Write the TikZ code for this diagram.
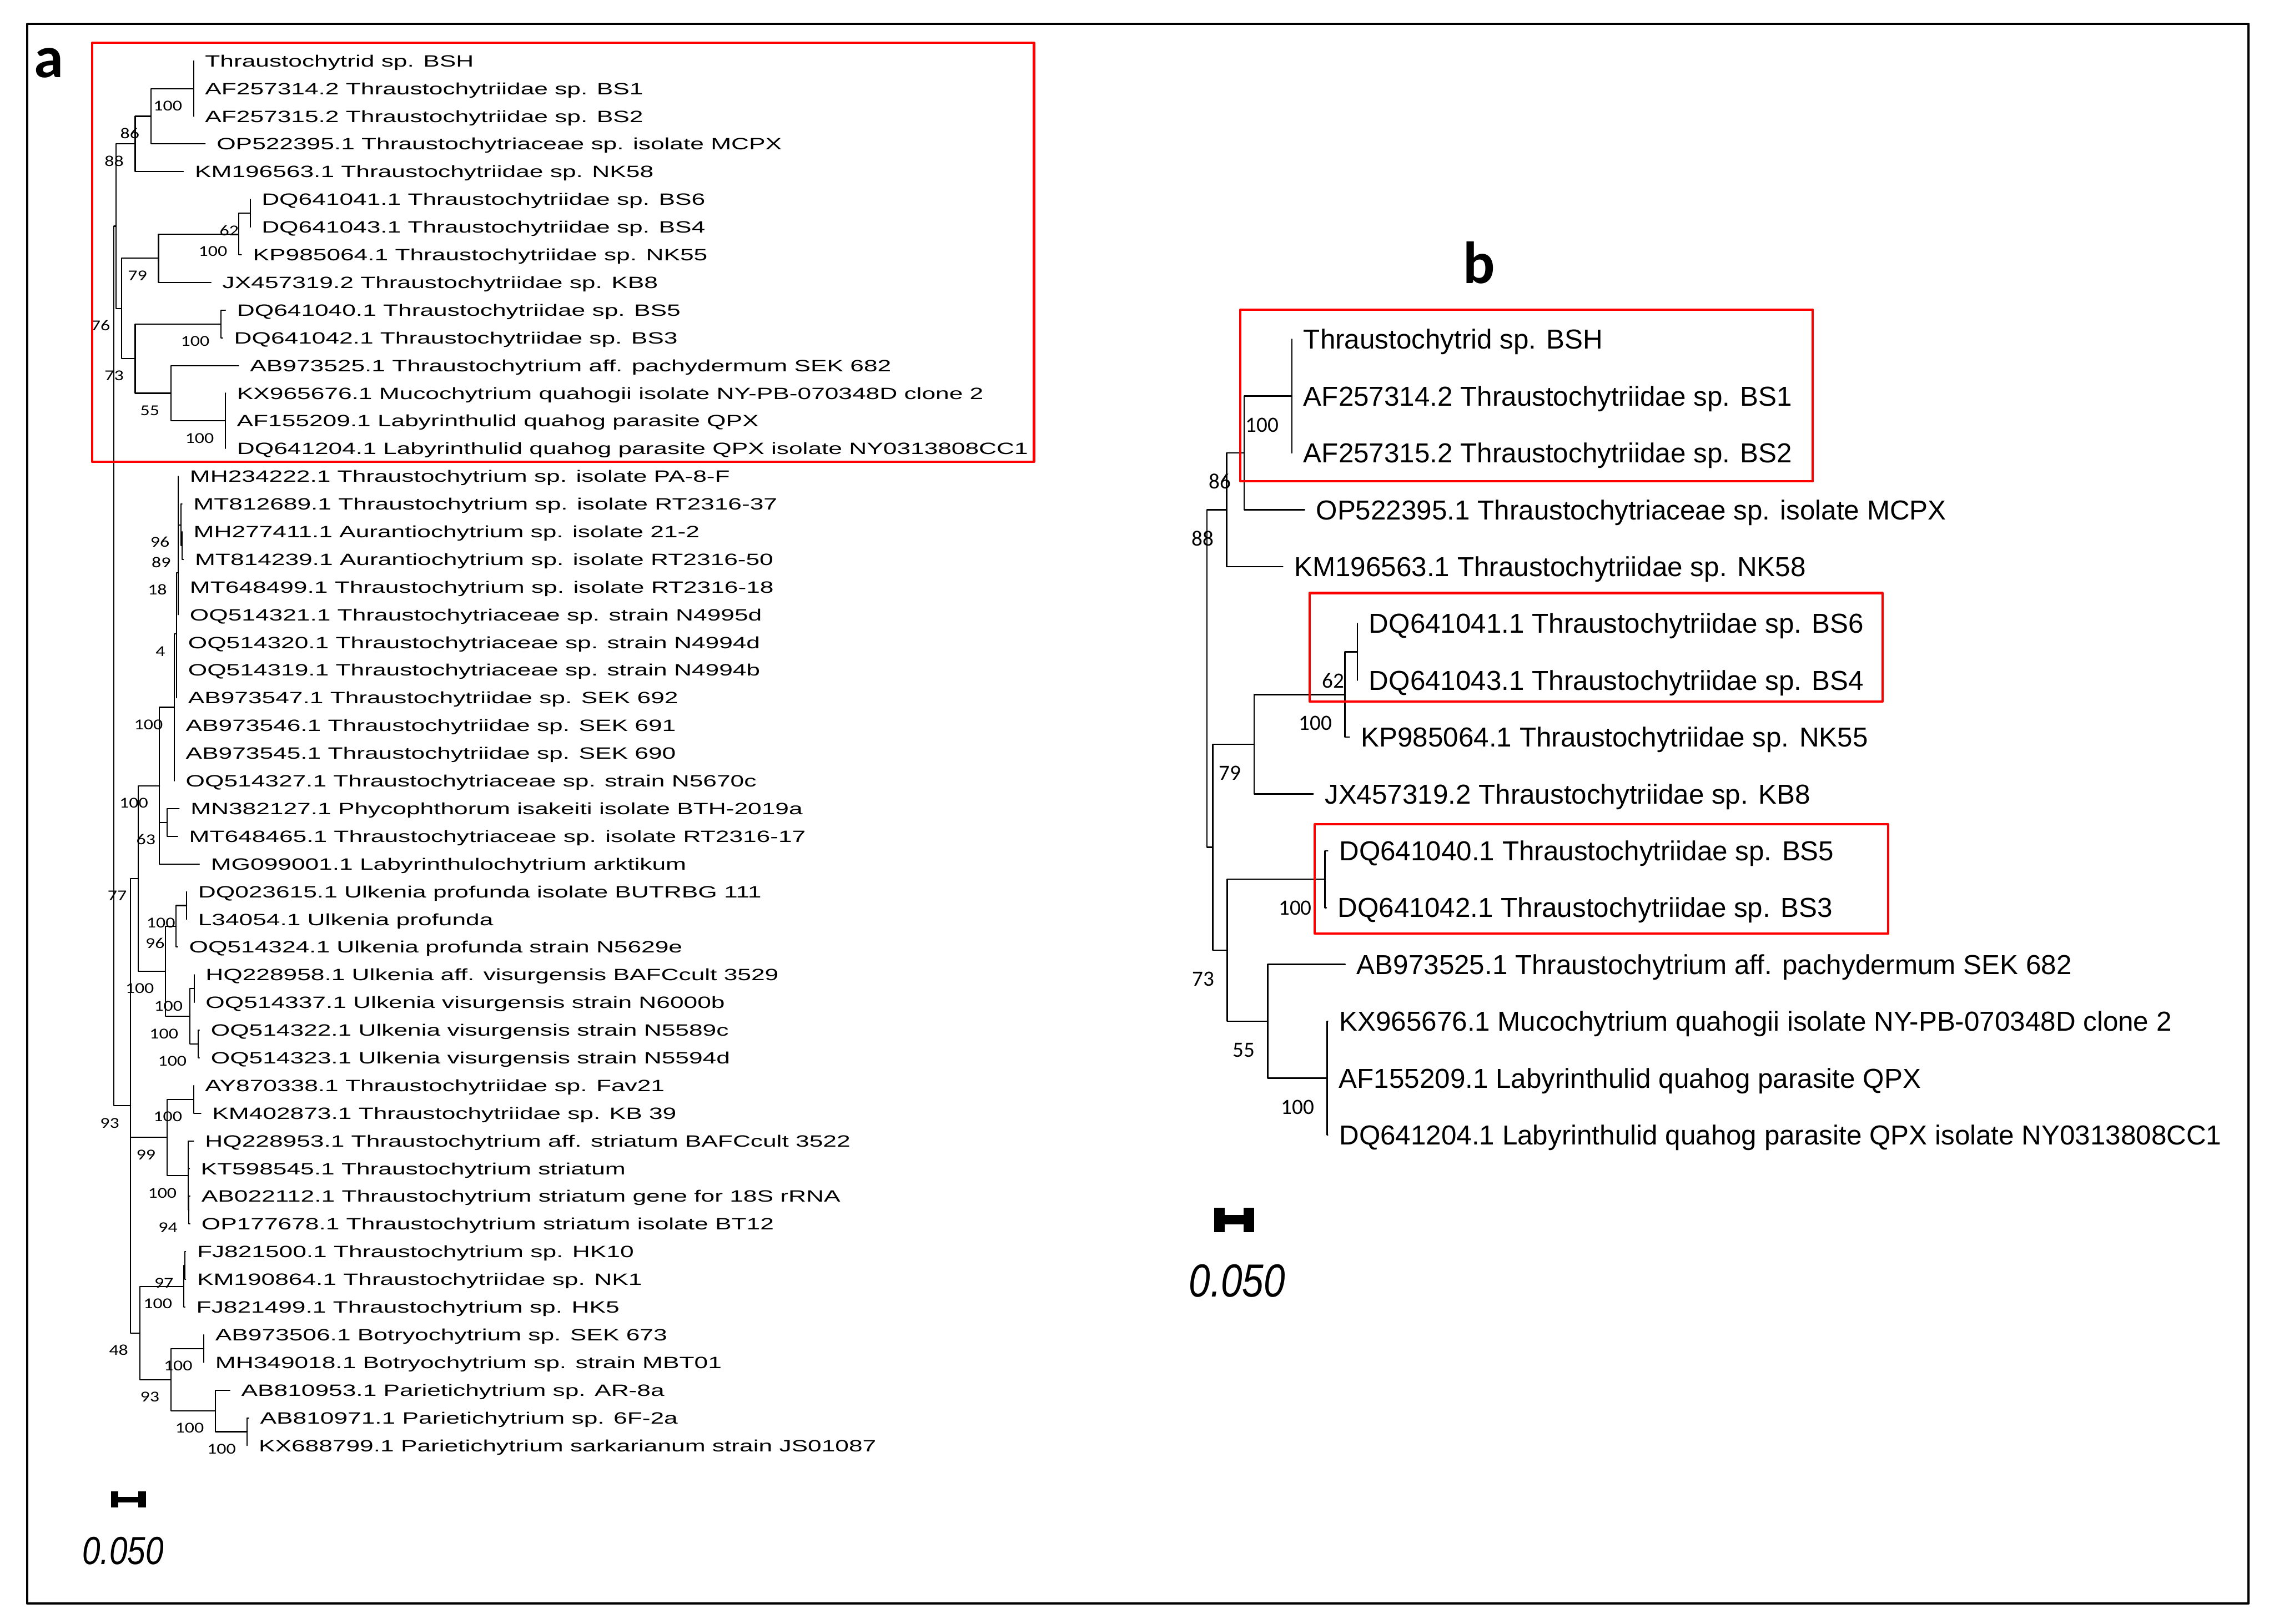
\documentclass[tikz,border=0pt]{standalone}
\usepackage{fontspec}
\newfontfamily\taxafont[FakeStretch=1.5]{Liberation Sans}
\newfontfamily\taxbfont{Liberation Sans}
\newfontfamily\bootafont[FakeStretch=1.25]{Carlito}
\newfontfamily\bootbfont{Carlito}
\newfontfamily\barfont[FakeStretch=0.83]{Liberation Sans}
\tikzset{
  every picture/.append style={line cap=round,line join=round},
  panel frame/.style={line width=1.5pt},
  clade box/.style={red,line width=1.6pt},
  tree a/.style={line width=0.8pt},
  tree b/.style={line width=1pt},
  taxon a/.style={anchor=west,inner sep=0pt,xshift=7.5pt,text height=8.1pt,text depth=0pt,
    font=\taxafont\fontsize{11.3}{13}\selectfont},
  taxon b/.style={anchor=west,inner sep=0pt,xshift=7.5pt,text height=13.5pt,text depth=0pt,
    font=\taxbfont\fontsize{18.9}{22}\selectfont},
  boot a/.style={anchor=east,inner sep=0pt,xshift=-7.5pt,yshift=-12pt,text height=6.6pt,text depth=0pt,
    font=\bootafont\fontsize{10.4}{12}\selectfont},
  boot b/.style={anchor=east,inner sep=0pt,xshift=-8.5pt,yshift=-20pt,text height=9.5pt,text depth=0pt,
    font=\bootbfont\fontsize{15}{17}\selectfont},
  panel tag/.style={anchor=base,inner sep=0pt,font=\bootbfont\bfseries\fontsize{41}{45}\selectfont},
  bar label/.style={inner sep=0pt,font=\barfont\itshape\fontsize{#1}{#1}\selectfont}
}
% name, position, children: elbow from every child to the node
\newcommand\clade[3]{%
  \coordinate (#1) at (#2);
  \foreach \k in {#3} {\draw (\k) -- (#1 |- \k) -- (#1);}}

\begin{document}
\begin{tikzpicture}[x=1pt,y=-1pt]
  \useasboundingbox (0,0) rectangle (1568,1120);
  \draw[panel frame] (18.8,16.4) rectangle (1550.5,1106);
  \node[panel tag] (taga) at (33.8,53.4) {a};
  \node[panel tag] (tagb) at (1020,195.3) {b};

  % ---- tree a ----
  \begin{scope}[tree a]
  \foreach \x/\t [count=\i] in {
    133.5/Thraustochytrid sp. BSH,
    133.5/AF257314.2 Thraustochytriidae sp. BS1,
    133.5/AF257315.2 Thraustochytriidae sp. BS2,
    141.5/OP522395.1 Thraustochytriaceae sp. isolate MCPX,
    126.5/KM196563.1 Thraustochytriidae sp. NK58,
    172.5/DQ641041.1 Thraustochytriidae sp. BS6,
    172.5/DQ641043.1 Thraustochytriidae sp. BS4,
    166.5/KP985064.1 Thraustochytriidae sp. NK55,
    145.5/JX457319.2 Thraustochytriidae sp. KB8,
    155.5/DQ641040.1 Thraustochytriidae sp. BS5,
    153.5/DQ641042.1 Thraustochytriidae sp. BS3,
    164.5/AB973525.1 Thraustochytrium aff. pachydermum SEK 682,
    155.5/KX965676.1 Mucochytrium quahogii isolate NY-PB-070348D clone 2,
    155.4/AF155209.1 Labyrinthulid quahog parasite QPX,
    155.5/DQ641204.1 Labyrinthulid quahog parasite QPX isolate NY0313808CC1,
    123/MH234222.1 Thraustochytrium sp. isolate PA-8-F,
    125.5/MT812689.1 Thraustochytrium sp. isolate RT2316-37,
    125.6/MH277411.1 Aurantiochytrium sp. isolate 21-2,
    126.5/MT814239.1 Aurantiochytrium sp. isolate RT2316-50,
    123/MT648499.1 Thraustochytrium sp. isolate RT2316-18,
    123/OQ514321.1 Thraustochytriaceae sp. strain N4995d,
    121.8/OQ514320.1 Thraustochytriaceae sp. strain N4994d,
    121.8/OQ514319.1 Thraustochytriaceae sp. strain N4994b,
    121.8/AB973547.1 Thraustochytriidae sp. SEK 692,
    120.2/AB973546.1 Thraustochytriidae sp. SEK 691,
    120.2/AB973545.1 Thraustochytriidae sp. SEK 690,
    120.2/OQ514327.1 Thraustochytriaceae sp. strain N5670c,
    123.5/MN382127.1 Phycophthorum isakeiti isolate BTH-2019a,
    122.5/MT648465.1 Thraustochytriaceae sp. isolate RT2316-17,
    137.5/MG099001.1 Labyrinthulochytrium arktikum,
    128.7/DQ023615.1 Ulkenia profunda isolate BUTRBG 111,
    128.7/L34054.1 Ulkenia profunda,
    122.5/OQ514324.1 Ulkenia profunda strain N5629e,
    133.9/HQ228958.1 Ulkenia aff. visurgensis BAFCcult 3529,
    133.9/OQ514337.1 Ulkenia visurgensis strain N6000b,
    137.5/OQ514322.1 Ulkenia visurgensis strain N5589c,
    137.5/OQ514323.1 Ulkenia visurgensis strain N5594d,
    133.5/AY870338.1 Thraustochytriidae sp. Fav21,
    138.5/KM402873.1 Thraustochytriidae sp. KB 39,
    133.5/HQ228953.1 Thraustochytrium aff. striatum BAFCcult 3522,
    130.5/KT598545.1 Thraustochytrium striatum,
    131/AB022112.1 Thraustochytrium striatum gene for 18S rRNA,
    131/OP177678.1 Thraustochytrium striatum isolate BT12,
    128/FJ821500.1 Thraustochytrium sp. HK10,
    128/KM190864.1 Thraustochytriidae sp. NK1,
    127.5/FJ821499.1 Thraustochytrium sp. HK5,
    140.6/AB973506.1 Botryochytrium sp. SEK 673,
    140.6/MH349018.1 Botryochytrium sp. strain MBT01,
    158.5/AB810953.1 Parietichytrium sp. AR-8a,
    171.5/AB810971.1 Parietichytrium sp. 6F-2a,
    170.5/KX688799.1 Parietichytrium sarkarianum strain JS01087}
  {
    \coordinate (a\i) at (\x,{42+19.1*(\i-1)});
    \node[taxon a] (la\i) at (a\i) {\t};
  }
  \clade{nbsh}{133.5,61.1}{a1,a2,a3}
  \clade{n86}{104,80.2}{nbsh,a4}
  \clade{n88}{93.2,99.3}{n86,a5}
  \clade{p6}{172.5,147.05}{a6,a7}
  \clade{n62}{164.6,161.4}{p6,a8}
  \clade{n79}{109.3,178.1}{n62,a9}
  \clade{p10}{152.3,223.45}{a10,a11}
  \clade{qpx}{155.4,290.3}{a13,a14,a15}
  \clade{n55}{117.8,271.2}{a12,qpx}
  \clade{n73}{93.2,247.3}{p10,n55}
  \clade{n76}{83.8,212.7}{n79,n73}
  \clade{nr1}{80,156}{n88,n76}
  \clade{m89}{125.6,376.25}{a18,a19}
  \clade{m96}{124.8,362}{a17,m89}
  \clade{m18}{123,395}{a16,m96,a20,a21}
  \clade{m4}{121.8,437.2}{m18,a22,a23,a24}
  \clade{m0}{120.2,487.9}{m4,a25,a26,a27}
  \clade{p63}{115.1,567.25}{a28,a29}
  \clade{n100c}{110,541.9}{m0,p63,a30}
  \clade{u1}{128.7,624.55}{a31,a32}
  \clade{u2}{121.4,638.9}{u1,a33}
  \clade{v1}{133.9,681.85}{a34,a35}
  \clade{v2}{136.6,720.05}{a36,a37}
  \clade{v3}{130.8,700.95}{v1,v2}
  \clade{u3}{114.1,669.9}{u2,v3}
  \clade{n77}{95.3,605.9}{n100c,u3}
  \clade{w1}{133.5,758.25}{a38,a39}
  \clade{s2}{130.3,834.65}{a42,a43}
  \clade{s1}{129.7,810.8}{a40,a41,s2}
  \clade{n99}{115.1,784.5}{w1,s1}
  \clade{h2}{127.5,872.85}{a44,a45}
  \clade{h1}{126.6,887.2}{h2,a46}
  \clade{bo}{140.6,930.15}{a47,a48}
  \clade{pa2}{170.5,987.45}{a50,a51}
  \clade{pa1}{148.5,973.1}{a49,pa2}
  \clade{n93b}{117.8,951.6}{bo,pa1}
  \clade{n48}{96.3,919.4}{h1,n93b}
  \clade{n93a}{90.1,762.65}{n77,n99,n48}
  \clade{roota}{78.5,459.3}{nr1,n93a}
  \foreach \n/\v in {nbsh/100,n86/86,n88/88,p6/62,n62/100,n79/79,n76/76,p10/100,
      n73/73,n55/55,qpx/100,m96/96,m89/89,m18/18,m4/4,m0/100,n100c/100,p63/63,
      n77/77,u1/100,u2/96,u3/100,v1/100,v3/100,v2/100,n93a/93,w1/100,n99/99,
      s1/100,s2/94,h2/97,h1/100,n48/48,bo/100,n93b/93,pa1/100,pa2/100}
    \node[boot a] (bs-\n) at (\n) {\v};
  \end{scope}
  \draw[clade box] (63.5,29.5) rectangle (713,318.5);

  % scale bar a
  \fill (76.5,1028.7) rectangle (81.5,1039.8);
  \fill (95.5,1028.7) rectangle (100.5,1039.8);
  \fill (76.5,1032.4) rectangle (100.5,1036.3);
  \node[bar label=27] (bara) at (84.8,1069.6) {0.050};

  % ---- tree b ----
  \begin{scope}[tree b]
  \foreach \x/\t [count=\i] in {
    890.8/Thraustochytrid sp. BSH,
    890.8/AF257314.2 Thraustochytriidae sp. BS1,
    890.8/AF257315.2 Thraustochytriidae sp. BS2,
    899.5/OP522395.1 Thraustochytriaceae sp. isolate MCPX,
    884.5/KM196563.1 Thraustochytriidae sp. NK58,
    936/DQ641041.1 Thraustochytriidae sp. BS6,
    936/DQ641043.1 Thraustochytriidae sp. BS4,
    930.5/KP985064.1 Thraustochytriidae sp. NK55,
    905.5/JX457319.2 Thraustochytriidae sp. KB8,
    915.5/DQ641040.1 Thraustochytriidae sp. BS5,
    914.5/DQ641042.1 Thraustochytriidae sp. BS3,
    927.5/AB973525.1 Thraustochytrium aff. pachydermum SEK 682,
    915.5/KX965676.1 Mucochytrium quahogii isolate NY-PB-070348D clone 2,
    915.2/AF155209.1 Labyrinthulid quahog parasite QPX,
    915.5/DQ641204.1 Labyrinthulid quahog parasite QPX isolate NY0313808CC1}
  {
    \coordinate (b\i) at (\x,{234+39.2*(\i-1)});
    \node[taxon b] (lb\i) at (b\i) {\t};
  }
  \clade{bbsh}{890.8,273.2}{b1,b2,b3}
  \clade{b86}{857.8,312.4}{bbsh,b4}
  \clade{b88}{845.8,351.6}{b86,b5}
  \clade{bp6}{936,449.6}{b6,b7}
  \clade{b62}{927.4,479}{bp6,b8}
  \clade{b79}{864.8,513.3}{b62,b9}
  \clade{bp10}{913.5,606.4}{b10,b11}
  \clade{bqpx}{915.2,743.6}{b13,b14,b15}
  \clade{b55}{874.1,704.4}{b12,bqpx}
  \clade{b73}{846.2,655.4}{bp10,b55}
  \clade{b76}{836.3,584.35}{b79,b73}
  \clade{rootb}{832.2,468}{b88,b76}
  \foreach \n/\v in {bbsh/100,b86/86,b88/88,bp6/62,b62/100,b79/79,b73/73,
      bp10/100,b55/55,bqpx/100}
    \node[boot b] (bs-\n) at (\n) {\v};
  \end{scope}
  \draw[clade box] (855.3,213.5) rectangle (1250,332);
  \draw[clade box] (903,409) rectangle (1298,484);
  \draw[clade box] (906.6,568.5) rectangle (1302,644);

  % scale bar b
  \fill (837.3,833) rectangle (844.6,850);
  \fill (857.3,833) rectangle (864.6,850);
  \fill (837.3,837.8) rectangle (864.6,844.5);
  \node[bar label=32] (barb) at (853,883.3) {0.050};
\end{tikzpicture}
\end{document}
